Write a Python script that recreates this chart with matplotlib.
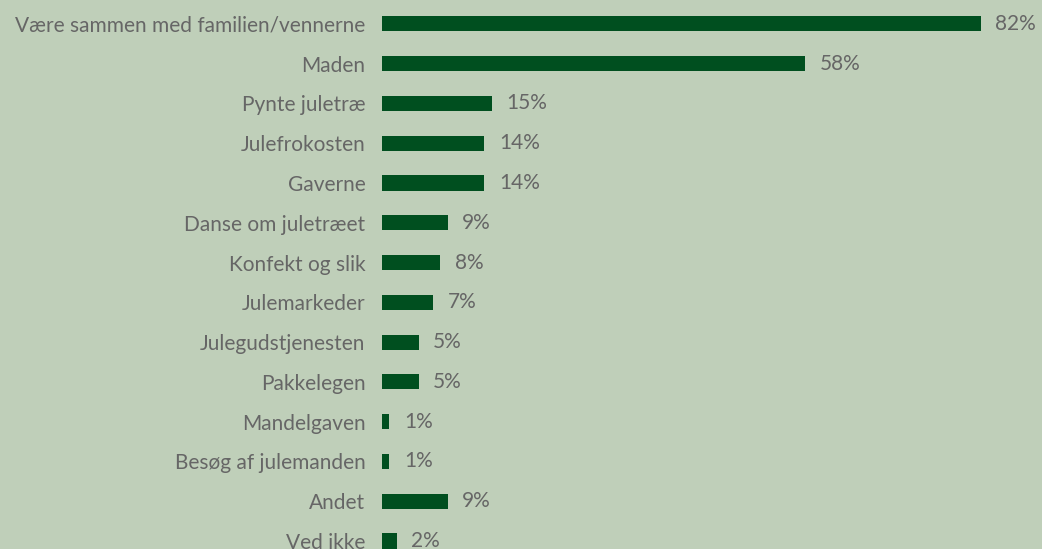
import matplotlib
matplotlib.use("Agg")
import matplotlib.pyplot as plt

kategorier = ["Være sammen med familien/vennerne", "Maden", "Pynte juletræ",
              "Julefrokosten", "Gaverne", "Danse om juletræet", "Konfekt og slik",
              "Julemarkeder", "Julegudstjenesten", "Pakkelegen", "Mandelgaven",
              "Besøg af julemanden", "Andet", "Ved ikke"]
procent = [82, 58, 15, 14, 14, 9, 8, 7, 5, 5, 1, 1, 9, 2]

bg = "#bfcfb9"
bar_col = "#004f1f"
txt_col = "#666666"

plt.rcParams['font.family'] = ['Lato', 'DejaVu Sans']

fig = plt.figure(figsize=(10.42, 5.49), dpi=100, facecolor=bg)
ax = fig.add_axes([382/1042, 0, 1 - 382/1042, 1])
ax.set_facecolor(bg)

y = list(range(len(kategorier)))
ax.barh(y, procent, height=0.38, color=bar_col)

for yi, v in zip(y, procent):
    ax.annotate(f"{v}%", (v, yi), xytext=(10.5, 0), textcoords="offset points",
                va="center", ha="left", fontsize=15, color=txt_col)

ax.set_xlim(0, 90.4)
ax.set_ylim(13.2, -0.6)
ax.set_yticks(y)
ax.set_yticklabels(kategorier, fontsize=15, color=txt_col)
ax.tick_params(axis="y", length=0, pad=12)
ax.set_xticks([])
for s in ax.spines.values():
    s.set_visible(False)

fig.savefig("out.png", dpi=100, facecolor=bg)
